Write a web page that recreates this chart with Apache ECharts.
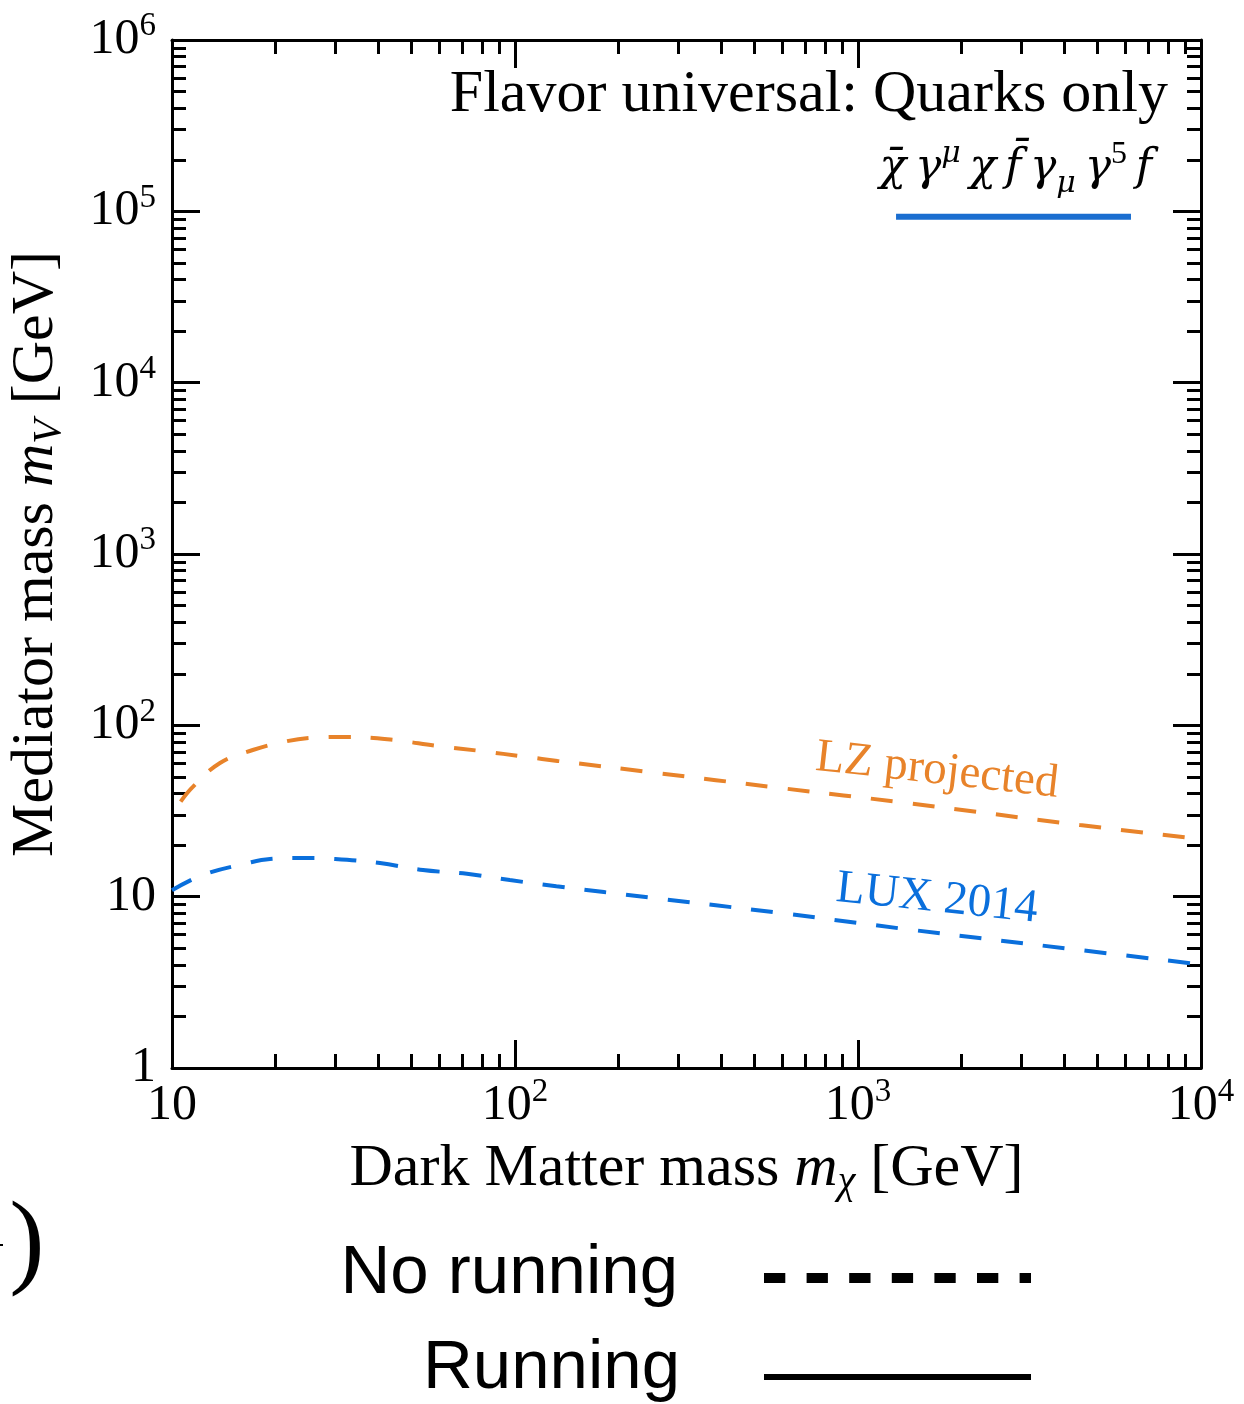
<!DOCTYPE html>
<html><head><meta charset="utf-8">
<script src="https://cdn.jsdelivr.net/npm/echarts@6/dist/echarts.min.js"></script>
<style>html,body{margin:0;padding:0;background:#fff}#c{width:1244px;height:1404px}</style>
</head><body><div id="c"></div>
<script>
// ---- data ----
const luxX = [10, 12.3, 16.6, 19.3, 23.6, 29.9, 40.4, 53.9, 72.4, 96.6, 132, 250, 593, 1445, 4436, 10000];
const luxY = [10.9, 13.4, 15.7, 16.6, 16.8, 16.6, 15.7, 14.3, 13.6, 12.5, 11.5, 9.85, 8.03, 6.39, 4.88, 4.02];
const lzX = [10.6, 11.5, 13.8, 17.2, 21.1, 25.3, 32.4, 44.1, 59.3, 79.1, 108, 133, 250, 593, 1390, 4436, 10000];
const lzY = [35.9, 43.7, 60.3, 71.8, 80.0, 84.5, 85.6, 82.2, 75.8, 70.9, 65.4, 62.0, 53.2, 43.1, 35.2, 26.2, 21.7];
const keyX = [1291, 6250];
const keyY = [92900, 92900];
const xMajor = [10, 100, 1000, 10000];
const xTickLabels = ['10', '10^2', '10^3', '10^4'];
const yMajor = [1, 10, 100, 1000, 10000, 100000, 1000000];
const yTickLabels = ['1', '10', '10^2', '10^3', '10^4', '10^5', '10^6'];
const xMinor = [20,30,40,50,60,70,80,90,200,300,400,500,600,700,800,900,2000,3000,4000,5000,6000,7000,8000,9000];
const yMinor = [2,3,4,5,6,7,8,9,20,30,40,50,60,70,80,90,200,300,400,500,600,700,800,900,
  2000,3000,4000,5000,6000,7000,8000,9000,20000,30000,40000,50000,60000,70000,80000,90000,
  200000,300000,400000,500000,600000,700000,800000,900000];

const BLUE = '#0a6fdc';
const ORANGE = '#e8832a';
const serif = '"Liberation Serif", "DejaVu Serif", serif';
const mathSerif = '"DejaVu Serif", "Liberation Serif", serif';
const sans = '"Liberation Sans", Arial, sans-serif';

function pair(xs, ys) { return xs.map((x, i) => [x, ys[i]]); }
function richLabel(s) {
  const p = s.split('^');
  return p.length > 1 ? '{b|' + p[0] + '}{s|' + p[1] + '}' : '{b|' + p[0] + '}';
}
function makeFormatter(vals, labels) {
  return function (v) {
    const i = vals.findIndex(m => Math.abs(Math.log10(m) - Math.log10(v)) < 1e-6);
    return i < 0 ? '' : richLabel(labels[i]);
  };
}
const labelRich = {
  b: { fontFamily: serif, fontSize: 50, lineHeight: 60, verticalAlign: 'middle', color: '#000' },
  s: { fontFamily: serif, fontSize: 33, lineHeight: 34, verticalAlign: 'top', color: '#000' }
};
const nameRich = {
  t: { fontFamily: serif, fontSize: 60, lineHeight: 66, verticalAlign: 'middle', color: '#000' },
  m: { fontFamily: serif, fontStyle: 'italic', fontSize: 60, lineHeight: 66, verticalAlign: 'middle', color: '#000' },
  sub: { fontFamily: serif, fontStyle: 'italic', fontSize: 40, lineHeight: 34, verticalAlign: 'bottom', color: '#000' }
};
const lineStyleAxis = { color: '#000', width: 3 };

function axisPair(kind, pos, majors, minors, withLabels, extra) {
  const base = {
    type: 'log', logBase: 10, position: pos,
    min: kind === 'x' ? 10 : 1, max: kind === 'x' ? 10000 : 1000000,
    splitLine: { show: false }
  };
  const major = Object.assign({}, base, {
    axisLine: { show: true, onZero: false, lineStyle: lineStyleAxis },
    axisTick: { show: true, inside: true, length: 28, lineStyle: { color: '#000', width: 3 }, customValues: majors },
    axisLabel: withLabels ? Object.assign({ show: true, customValues: majors, rich: labelRich,
      formatter: makeFormatter(majors, kind === 'x' ? xTickLabels : yTickLabels) }, extra.label) : { show: false }
  }, extra.axis || {});
  const minor = Object.assign({}, base, {
    axisLine: { show: false },
    axisTick: { show: true, inside: true, length: 14, lineStyle: { color: '#000', width: 3 }, customValues: minors },
    axisLabel: { show: false }
  });
  return [major, minor];
}

const xAxes = [].concat(
  axisPair('x', 'bottom', xMajor, xMinor, true, {
    label: { margin: 8 },
    axis: { name: '{t|Dark Matter mass }{m|m}{sub|χ}{t| [GeV]}', nameLocation: 'middle', nameGap: 68,
      nameTextStyle: { rich: nameRich } }
  }),
  axisPair('x', 'top', xMajor, xMinor, false, {})
);
const yAxes = [].concat(
  axisPair('y', 'left', yMajor, yMinor, true, {
    label: { margin: 16 },
    axis: { name: '{t|Mediator mass }{m|m}{sub|V}{t| [GeV]}', nameLocation: 'middle', nameGap: 103,
      nameTextStyle: { rich: nameRich } }
  }),
  axisPair('y', 'right', yMajor, yMinor, false, {})
);

const hs = '\u2009';
const chart = echarts.init(document.getElementById('c'), null, { renderer: 'canvas' });
chart.setOption({
  backgroundColor: '#fff',
  animation: false,
  grid: { left: 172, top: 40, width: 1029, height: 1028, containLabel: false, outerBoundsMode: 'none' },
  xAxis: xAxes,
  yAxis: yAxes,
  series: [
    { name: 'LUX 2014', type: 'line', xAxisIndex: 0, yAxisIndex: 0, data: pair(luxX, luxY),
      smooth: 0.4, symbol: 'none', lineStyle: { color: BLUE, width: 4, type: [22, 20] } },
    { name: 'LZ projected', type: 'line', xAxisIndex: 0, yAxisIndex: 0, data: pair(lzX, lzY),
      smooth: 0.4, symbol: 'none', lineStyle: { color: ORANGE, width: 4, type: [22, 20] } },
    { name: 'key', type: 'line', xAxisIndex: 0, yAxisIndex: 0, data: pair(keyX, keyY),
      symbol: 'none', silent: true, lineStyle: { color: '#1a6ed0', width: 6 } }
  ],
  graphic: [
    { type: 'text', x: 1168, y: 95, style: { text: 'Flavor universal: Quarks only', fontFamily: serif,
      fontSize: 60, fill: '#000', textAlign: 'right', textVerticalAlign: 'middle' } },
    { type: 'text', x: 1152, y: 169, style: {
      text: '{i|χ\u0304' + hs + 'γ}{s|μ}{i|' + hs + 'χ' + hs + 'f\u0304' + hs + 'γ}{d|μ}{i|' + hs + 'γ}{n|5}{i|' + hs + 'f}',
      textAlign: 'right', textVerticalAlign: 'middle',
      rich: {
        i: { fontFamily: mathSerif, fontStyle: 'italic', fontSize: 44, lineHeight: 60, verticalAlign: 'middle', fill: '#000' },
        s: { fontFamily: mathSerif, fontStyle: 'italic', fontSize: 30, lineHeight: 50, verticalAlign: 'top', fill: '#000' },
        d: { fontFamily: mathSerif, fontStyle: 'italic', fontSize: 30, lineHeight: 36, verticalAlign: 'bottom', fill: '#000' },
        n: { fontFamily: serif, fontSize: 32, lineHeight: 50, verticalAlign: 'top', fill: '#000' }
      } } },
    { type: 'text', x: 937, y: 771, rotation: -0.112, style: { text: 'LZ projected', fontFamily: serif,
      fontSize: 47, fill: ORANGE, textAlign: 'center', textVerticalAlign: 'middle' } },
    { type: 'text', x: 937, y: 899, rotation: -0.104, style: { text: 'LUX 2014', fontFamily: serif,
      fontSize: 47, fill: BLUE, textAlign: 'center', textVerticalAlign: 'middle' } },
    { type: 'text', x: 27, y: 1246, style: { text: ')', fontFamily: serif, fontSize: 106, fill: '#000',
      textAlign: 'center', textVerticalAlign: 'middle' } },
    { type: 'rect', shape: { x: 0, y: 1244, width: 3, height: 2 }, style: { fill: '#000' } },
    { type: 'text', x: 678, y: 1274, style: { text: 'No running', fontFamily: sans, fontSize: 69,
      fill: '#000', textAlign: 'right', textVerticalAlign: 'middle' } },
    { type: 'text', x: 680, y: 1369, style: { text: 'Running', fontFamily: sans, fontSize: 69,
      fill: '#000', textAlign: 'right', textVerticalAlign: 'middle' } },
    { type: 'line', shape: { x1: 764, y1: 1278, x2: 1031, y2: 1278 },
      style: { stroke: '#000', lineWidth: 10, lineDash: [21.3, 21.3], lineCap: 'butt' } },
    { type: 'line', shape: { x1: 764, y1: 1377, x2: 1031, y2: 1377 },
      style: { stroke: '#000', lineWidth: 6, lineCap: 'butt' } }
  ]
});
</script>
</body></html>
